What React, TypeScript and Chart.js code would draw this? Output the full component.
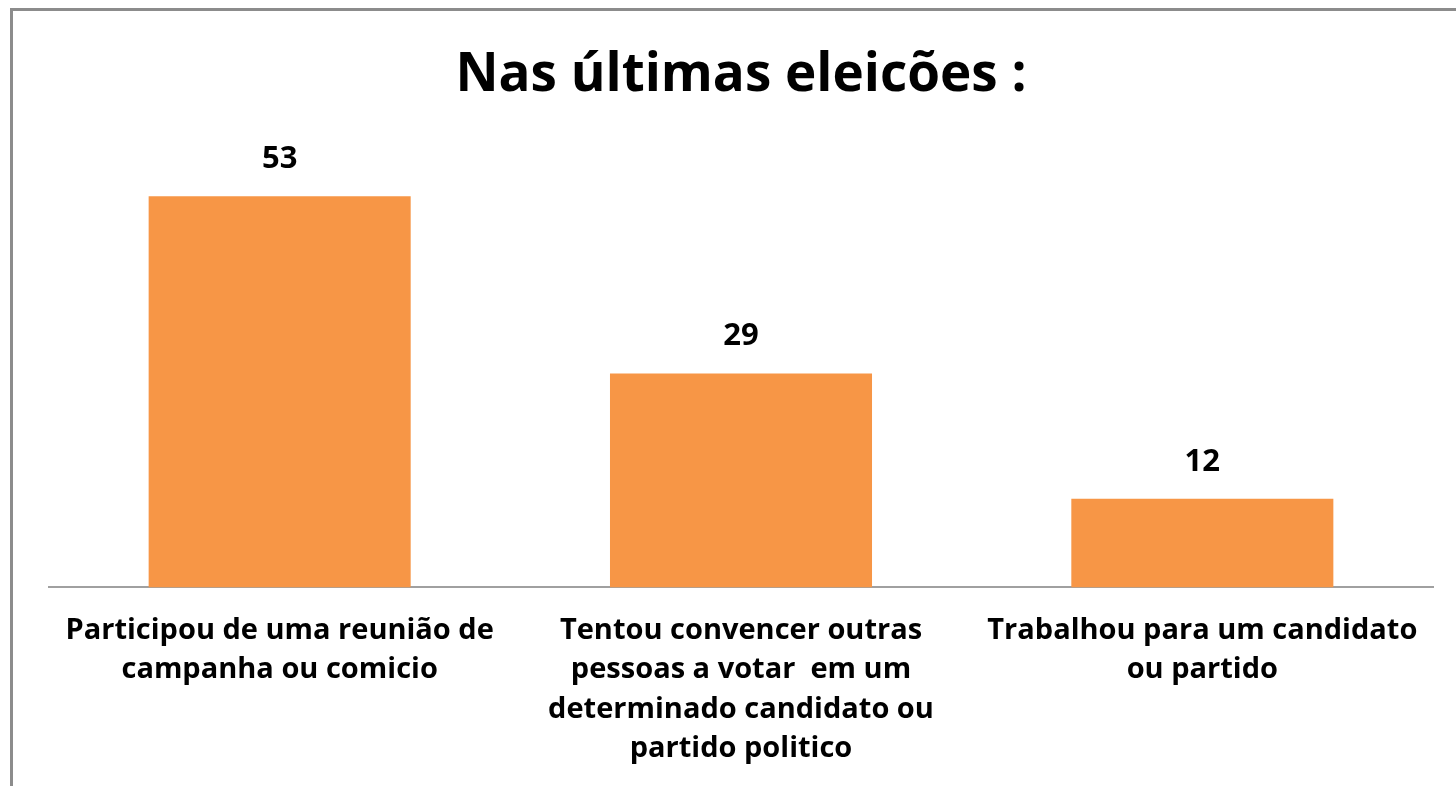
import React, { useEffect, useRef } from "react";
import { Chart, registerables } from "chart.js";

Chart.register(...registerables);

const titleText = "Nas últimas eleicões :";
const categories: string[][] = [
  ["Participou de uma reunião de", "campanha ou comicio"],
  ["Tentou convencer outras", "pessoas a votar  em um", "determinado candidato ou", "partido politico"],
  ["Trabalhou para um candidato", "ou partido"],
];
const values: number[] = [53, 29, 12];
const yMax = 60;

const FONT = "'Open Sans', 'DejaVu Sans', sans-serif";

const valueLabels = {
  id: "valueLabels",
  afterDatasetsDraw(chart: any) {
    const ctx = chart.ctx;
    const meta = chart.getDatasetMeta(0);
    ctx.save();
    ctx.font = `bold 31px ${FONT}`;
    ctx.fillStyle = "#000000";
    ctx.textAlign = "center";
    ctx.textBaseline = "middle";
    meta.data.forEach((bar: any, i: number) => {
      ctx.fillText(String(values[i]), bar.x, bar.y - 37);
    });
    ctx.restore();
  },
};

export default function App() {
  const ref = useRef<HTMLCanvasElement | null>(null);
  useEffect(() => {
    document.body.style.overflow = "hidden";
    if (!ref.current) return;
    const chart = new Chart(ref.current, {
      type: "bar",
      data: {
        labels: categories,
        datasets: [
          {
            data: values,
            backgroundColor: "#F79646",
            borderWidth: 0,
            categoryPercentage: 1,
            barPercentage: 0.568,
          },
        ],
      },
      options: {
        animation: false,
        responsive: false,
        maintainAspectRatio: false,
        layout: { padding: { left: 49, right: 23, top: 0, bottom: 0 } },
        plugins: {
          legend: { display: false },
          tooltip: { enabled: false },
          title: {
            display: true,
            text: titleText,
            color: "#000000",
            font: { family: FONT, size: 53, weight: "bold", lineHeight: 1.2 },
            padding: { top: 44, bottom: 37 },
          },
        },
        scales: {
          x: {
            grid: { display: false, drawTicks: false },
            border: { display: true, color: "#a0a0a0", width: 2 },
            ticks: {
              color: "#000000",
              font: { family: FONT, size: 29, weight: "bold", lineHeight: 1.35 },
              padding: 24,
              maxRotation: 0,
              autoSkip: false,
            },
          },
          y: {
            display: false,
            min: 0,
            max: yMax,
          },
        },
      },
      plugins: [valueLabels],
    });
    return () => chart.destroy();
  }, []);

  return (
    <div style={{ position: "fixed", left: 0, top: 0, width: 1456, height: 786, background: "#ffffff", overflow: "hidden" }}>
      <div
        style={{
          position: "absolute",
          left: 10,
          top: 8,
          width: 1446,
          height: 778,
          borderLeft: "3px solid #8c8c8c",
          borderTop: "3px solid #8c8c8c",
          boxSizing: "border-box",
        }}
      />
      <canvas ref={ref} width={1456} height={792} style={{ position: "absolute", left: 0, top: 0 }} />
    </div>
  );
}
